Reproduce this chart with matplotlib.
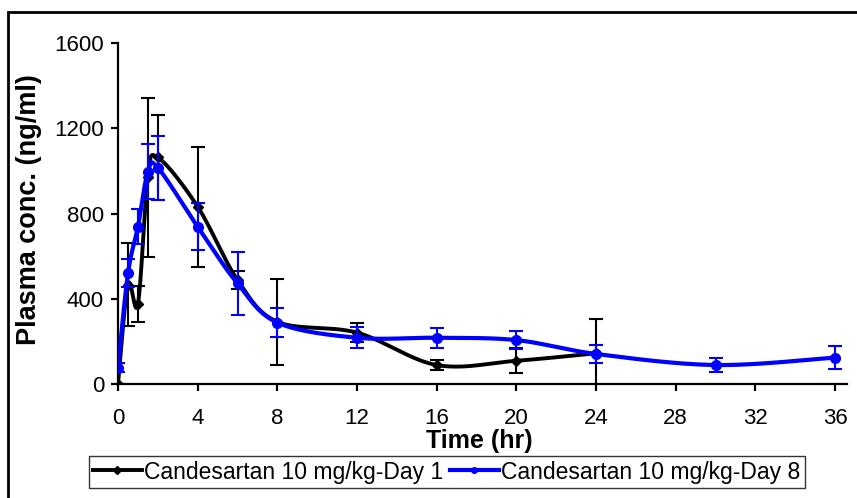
import numpy as np
import matplotlib
matplotlib.use("Agg")
import matplotlib.pyplot as plt
from matplotlib.patches import Rectangle

plt.rcParams['font.family'] = ['Liberation Sans', 'DejaVu Sans']

# ---- data ----
time_day1 = [0, 0.5, 1, 1.5, 2, 4, 6, 8, 12, 16, 20, 24]
conc_day1 = [0, 465, 375, 970, 1063, 832, 488, 292, 241, 89, 109, 144]
err_day1 = [0, 195, 83, 372, 200, 282, 40, 203, 43, 24, 58, 160]

time_day8 = [0, 0.5, 1, 1.5, 2, 4, 6, 8, 12, 16, 20, 24, 30, 36]
conc_day8 = [77, 519, 738, 996, 1015, 738, 472, 288, 217, 217, 206, 141, 89, 124]
err_day8 = [20, 66, 82, 130, 150, 111, 148, 69, 49, 48, 43, 43, 33, 53]

label_day1 = "Candesartan 10 mg/kg-Day 1"
label_day8 = "Candesartan 10 mg/kg-Day 8"
xticks = [0, 4, 8, 12, 16, 20, 24, 28, 32, 36]
yticks = [0, 400, 800, 1200, 1600]


def smooth(x, y, n=40):
    """Excel-like smoothed line: Catmull-Rom cubic Bezier through points."""
    p = np.column_stack([np.asarray(x, float), np.asarray(y, float)])
    out = []
    t = np.linspace(0, 1, n)[:, None]
    for i in range(len(p) - 1):
        p0 = p[i - 1] if i > 0 else p[i]
        p1, p2 = p[i], p[i + 1]
        p3 = p[i + 2] if i + 2 < len(p) else p[i + 1]
        c1 = p1 + (p2 - p0) / 6.0
        c2 = p2 - (p3 - p1) / 6.0
        seg = ((1 - t) ** 3) * p1 + 3 * ((1 - t) ** 2) * t * c1 + 3 * (1 - t) * t ** 2 * c2 + t ** 3 * p2
        out.append(seg if i == 0 else seg[1:])
    s = np.vstack(out)
    return s[:, 0], s[:, 1]


fig = plt.figure(figsize=(8.57, 4.98), dpi=100)
ax = fig.add_axes([118 / 857, 1 - 384 / 498, (847 - 118) / 857, (384 - 43) / 498])

# Day 1 (black)
sx, sy = smooth(time_day1, conc_day1)
ax.plot(sx, sy, color='black', lw=2.8, zorder=3, solid_capstyle='round')
ax.errorbar(time_day1, conc_day1, yerr=err_day1, fmt='none', ecolor='black',
            elinewidth=1.5, capsize=5, capthick=1.5, zorder=3)
ax.plot(time_day1, conc_day1, ls='none', marker='D', ms=5, color='black', zorder=4)

# Day 8 (blue)
sx, sy = smooth(time_day8, conc_day8)
ax.plot(sx, sy, color='#0000FF', lw=3.0, zorder=5, solid_capstyle='round')
ax.errorbar(time_day8, conc_day8, yerr=err_day8, fmt='none', ecolor='#0000FF',
            elinewidth=1.5, capsize=5, capthick=1.5, zorder=5)
ax.plot(time_day8, conc_day8, ls='none', marker='o', ms=7, color='#0000FF', zorder=6)

ax.set_xlim(0, 36.6)
ax.set_ylim(0, 1600)
ax.set_xticks(xticks)
ax.set_yticks(yticks)
for s in ['top', 'right']:
    ax.spines[s].set_visible(False)
for s in ['left', 'bottom']:
    ax.spines[s].set_linewidth(1.6)
ax.tick_params(axis='both', which='major', labelsize=16, width=1.6, length=5, direction='out')
ax.tick_params(axis='x', pad=12)
ax.tick_params(axis='y', pad=5)
for lab in ax.get_xticklabels() + ax.get_yticklabels():
    lab.set_clip_on(False)

ax.set_xlabel("Time (hr)", fontsize=18, fontweight='bold')
ax.xaxis.set_label_coords((479 - 118) / 729, (384 - 429) / 341)
ax.set_ylabel("Plasma conc. (ng/ml)", fontsize=19.5, fontweight='bold')
ax.yaxis.set_label_coords((42 - 118) / 729, (384 - 210) / 341)

h1 = plt.Line2D([], [], color='black', lw=2.8, marker='D', ms=4)
h8 = plt.Line2D([], [], color='#0000FF', lw=3.0, marker='o', ms=4)
leg = fig.legend([h1, h8], [label_day1, label_day8], loc='center',
                 bbox_to_anchor=(447 / 857, 1 - 472 / 498), ncol=2, fontsize=16.5,
                 frameon=True, fancybox=False, handlelength=2.1, handletextpad=0.12,
                 columnspacing=0.3, borderpad=0.2, borderaxespad=0)
leg.get_frame().set_edgecolor('black')
leg.get_frame().set_linewidth(1.0)

# outer chart frame
fig.patches.append(Rectangle((8 / 857, -0.05), 1.2, 1 - 12.5 / 498 + 0.05,
                             transform=fig.transFigure, fill=False,
                             edgecolor='black', lw=2.0, zorder=0))

fig.savefig("out.png", dpi=100)
